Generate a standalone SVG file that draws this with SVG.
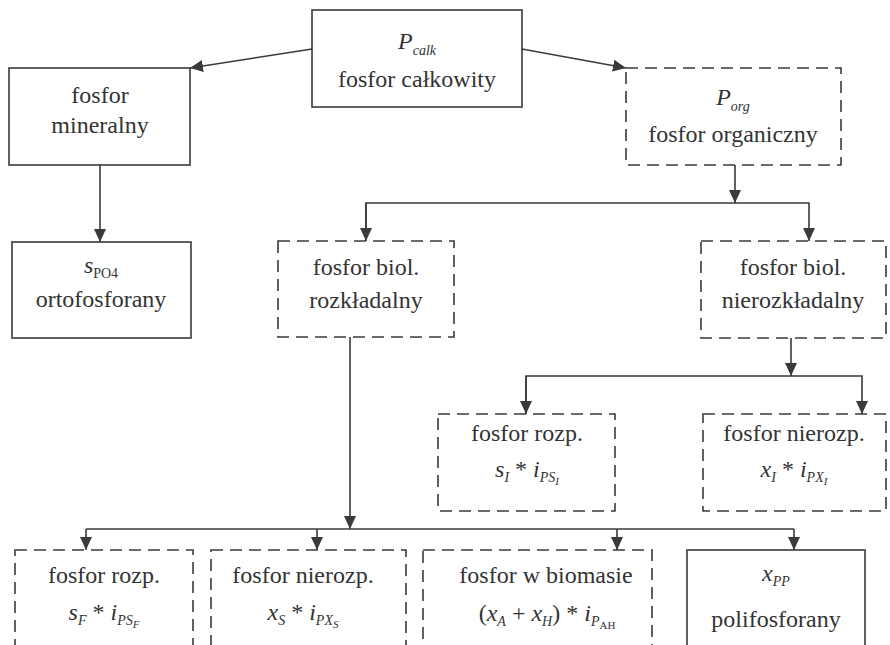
<svg xmlns="http://www.w3.org/2000/svg" width="890" height="645" viewBox="0 0 890 645">
<style>
.box{fill:none;stroke:#3a3a3a;stroke-width:1.6}
.dash{stroke-dasharray:12 7}
.t{font-family:"Liberation Serif","Times New Roman",serif;font-size:24px;fill:#333;text-anchor:middle}
.i{font-style:italic}
.s{font-size:14px}
.s2{font-size:11px}
.c{fill:none;stroke:#3a3a3a;stroke-width:1.6}
</style>
<defs>
<marker id="ah" markerUnits="userSpaceOnUse" markerWidth="14" markerHeight="14" refX="13" refY="6" orient="auto">
<path d="M0,0 L13,6 L0,12 z" fill="#3a3a3a"/>
</marker>
</defs>
<rect width="890" height="645" fill="#fff"/>
<g id="connectors">
<path class="c" d="M312,49 L190,68" marker-end="url(#ah)"/>
<path class="c" d="M522,49 L626,68" marker-end="url(#ah)"/>
<path class="c" d="M100,165 L100,242" marker-end="url(#ah)"/>
<path class="c" d="M735,165 L735,203" marker-end="url(#ah)"/>
<path class="c" d="M366,241 L366,203 L809,203 L809,241" marker-end="url(#ah)"/>
<path class="c" d="M366,203 L366,241" marker-end="url(#ah)"/>
<path class="c" d="M791,338 L791,376" marker-end="url(#ah)"/>
<path class="c" d="M526,414 L526,376 L862,376 L862,414" marker-end="url(#ah)"/>
<path class="c" d="M526,376 L526,414" marker-end="url(#ah)"/>
<path class="c" d="M350,337 L350,529" marker-end="url(#ah)"/>
<path class="c" d="M86,529 L794,529"/>
<path class="c" d="M86,529 L86,550" marker-end="url(#ah)"/>
<path class="c" d="M317,529 L317,550" marker-end="url(#ah)"/>
<path class="c" d="M617,529 L617,550" marker-end="url(#ah)"/>
<path class="c" d="M794,529 L794,550" marker-end="url(#ah)"/>
</g>
<g id="n-calk">
<rect class="box" x="312" y="10" width="210" height="97"/>
<text class="t" x="417" y="49"><tspan class="i">P</tspan><tspan class="i s" dy="6">calk</tspan></text>
<text class="t" x="417" y="87">fosfor całkowity</text>
</g>
<g id="n-mineralny">
<rect class="box" x="9" y="68" width="181" height="97"/>
<text class="t" x="100" y="103">fosfor</text>
<text class="t" x="100" y="133">mineralny</text>
</g>
<g id="n-po4">
<rect class="box" x="12" y="242" width="179" height="96"/>
<text class="t" x="101" y="273"><tspan class="i">s</tspan><tspan class="s" dy="5">PO4</tspan></text>
<text class="t" x="101" y="307">ortofosforany</text>
</g>
<g id="n-org">
<rect class="box dash" x="626" y="68" width="215" height="97"/>
<text class="t" x="733" y="105"><tspan class="i">P</tspan><tspan class="i s" dy="6">org</tspan></text>
<text class="t" x="733" y="142">fosfor organiczny</text>
</g>
<g id="n-rozkl">
<rect class="box dash" x="278" y="241" width="176" height="96"/>
<text class="t" x="366" y="275">fosfor biol.</text>
<text class="t" x="366" y="308">rozkładalny</text>
</g>
<g id="n-nierozkl">
<rect class="box dash" x="701" y="241" width="185" height="97"/>
<text class="t" x="793" y="275">fosfor biol.</text>
<text class="t" x="793" y="308">nierozkładalny</text>
</g>
<g id="n-si">
<rect class="box dash" x="438" y="414" width="177" height="97"/>
<text class="t" x="527" y="441">fosfor rozp.</text>
<text class="t" x="527" y="477"><tspan class="i">s</tspan><tspan class="i s" dy="5">I</tspan><tspan dy="-5"> *</tspan><tspan class="i"> i</tspan><tspan class="i s" dy="5">PS</tspan><tspan class="i s2" dy="3">I</tspan></text>
</g>
<g id="n-xi">
<rect class="box dash" x="703" y="414" width="183" height="97"/>
<text class="t" x="794" y="441">fosfor nierozp.</text>
<text class="t" x="794" y="477"><tspan class="i">x</tspan><tspan class="i s" dy="5">I</tspan><tspan dy="-5"> *</tspan><tspan class="i"> i</tspan><tspan class="i s" dy="5">PX</tspan><tspan class="i s2" dy="3">I</tspan></text>
</g>
<g id="n-sf">
<rect class="box dash" x="15" y="550" width="178" height="110"/>
<text class="t" x="104" y="583">fosfor rozp.</text>
<text class="t" x="104" y="620"><tspan class="i">s</tspan><tspan class="i s" dy="5">F</tspan><tspan dy="-5"> *</tspan><tspan class="i"> i</tspan><tspan class="i s" dy="5">PS</tspan><tspan class="i s2" dy="3">F</tspan></text>
</g>
<g id="n-xs">
<rect class="box dash" x="211" y="550" width="195" height="110"/>
<text class="t" x="303" y="583">fosfor nierozp.</text>
<text class="t" x="303" y="620"><tspan class="i">x</tspan><tspan class="i s" dy="5">S</tspan><tspan dy="-5"> *</tspan><tspan class="i"> i</tspan><tspan class="i s" dy="5">PX</tspan><tspan class="i s2" dy="3">S</tspan></text>
</g>
<g id="n-biomasa">
<rect class="box dash" x="423" y="550" width="229" height="110"/>
<text class="t" x="546" y="583">fosfor w biomasie</text>
<text class="t" x="547" y="621">(<tspan class="i">x</tspan><tspan class="i s" dy="5">A</tspan><tspan dy="-5"> + </tspan><tspan class="i">x</tspan><tspan class="i s" dy="5">H</tspan><tspan dy="-5">) *</tspan><tspan class="i"> i</tspan><tspan class="i s" dy="5">P</tspan><tspan class="s2" dy="3">AH</tspan></text>
</g>
<g id="n-pp">
<rect class="box" x="687" y="550" width="178" height="110"/>
<text class="t" x="776" y="581"><tspan class="i">x</tspan><tspan class="i s" dy="5">PP</tspan></text>
<text class="t" x="776" y="627">polifosforany</text>
</g>
</svg>
